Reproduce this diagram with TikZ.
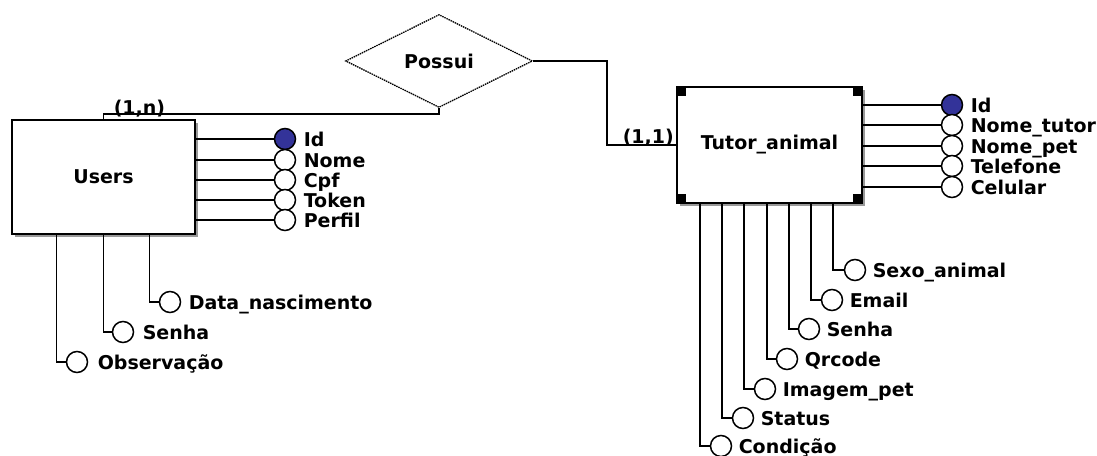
\documentclass[tikz,border=0pt]{standalone}
\usepackage{fontspec}
\setmainfont{DejaVu Sans}
\usetikzlibrary{shapes.geometric,shadows}
\definecolor{keyblue}{HTML}{333399}
\begin{document}
\begin{tikzpicture}[x=1pt,y=-1pt, line width=1.5pt,
  every node/.style={font=\fontsize{19}{19}\selectfont\bfseries, inner sep=0pt},
  ent/.style={draw, fill=white, rectangle, drop shadow={shadow xshift=2.5pt, shadow yshift=-2.5pt, fill=black!40, opacity=1}},
  att/.style={draw, circle, fill=white, minimum size=21pt, inner sep=0pt},
  keyatt/.style={att, fill=keyblue},
  lab/.style={anchor=base west},
  rel/.style={draw, diamond, aspect=2, minimum width=187pt, minimum height=93pt, line width=1.3pt, dash pattern=on 1.5pt off 0.8pt}]
\useasboundingbox (0,0) rectangle (1097,455);

% entities
\node[ent, minimum width=183pt, minimum height=114pt] (users) at (103.5,177) {Users};
\node[ent, line width=2pt, minimum width=185pt, minimum height=116pt] (tutor) at (769.5,145) {Tutor\_animal};
\fill (tutor.north west) rectangle ++(10,10);
\fill (tutor.north east) rectangle ++(-10,10);
\fill (tutor.south west) rectangle ++(10,-10);
\fill (tutor.south east) rectangle ++(-10,-10);

% relationship
\node[rel] (possui) at (439,61) {Possui};
\coordinate (bend) at (0,114);
\draw (users.north) -- (users.north |- bend) -| (possui.south);
\draw (possui.east) -- ++(74,0) |- (tutor.west);
\node[lab] (cardn) at (113,114) {(1,n)};
\node[lab] (card1) at (622,143) {(1,1)};

% Users attributes (right)
\node[keyatt] (uid) at (285,139) {};
\node[lab] (luid) at (303,146) {Id};
\draw (users.east |- uid) -- (uid.west);
\foreach \nm/\yy/\tt in {unome/160/Nome, ucpf/180/Cpf, utok/200/Token, uper/220/Perfil}{
  \node[att] (\nm) at (285,\yy) {};
  \node[lab] (l\nm) at (303,\yy+7) {\tt};
  \draw (users.east |- \nm) -- (\nm.west);
}

% Users attributes (bottom)
\node[att] (udn) at (170,302) {};
\node[lab] (ludn) at (188,309) {Data\_nascimento};
\draw ([xshift=138pt]users.south west) |- (udn.west);
\node[att] (usen) at (123,332) {};
\node[lab] (lusen) at (142,339) {Senha};
\draw ([xshift=92pt]users.south west) |- (usen.west);
\node[att] (uobs) at (77,362) {};
\node[lab] (luobs) at (97,369) {Observação};
\draw ([xshift=45pt]users.south west) |- (uobs.west);

% Tutor attributes (right)
\node[keyatt] (tid) at (952,105) {};
\node[lab] (ltid) at (970,112) {Id};
\draw (tutor.east |- tid) -- (tid.west);
\foreach \nm/\yy/\tt in {tnt/125/Nome\_tutor, tnp/146/Nome\_pet, ttel/166/Telefone, tcel/187/Celular}{
  \node[att] (\nm) at (952,\yy) {};
  \node[lab] (l\nm) at (970,\yy+7) {\tt};
  \draw (tutor.east |- \nm) -- (\nm.west);
}

% Tutor attributes (bottom)
\foreach \nm/\dx/\cx/\cy/\tt in {tsex/157/855/270/Sexo\_animal, tema/135/832/300/Email, tsen/113/809/329/Senha, tqr/91/787/359/Qrcode, timg/68/765/389/Imagem\_pet, tsta/46/743/418/Status, tcon/24/721/446/Condição}{
  \node[att] (\nm) at (\cx,\cy) {};
  \node[lab] (l\nm) at (\cx+17,\cy+7) {\tt};
  \draw ([xshift=\dx pt]tutor.south west) |- (\nm.west);
}
\end{tikzpicture}
\end{document}
